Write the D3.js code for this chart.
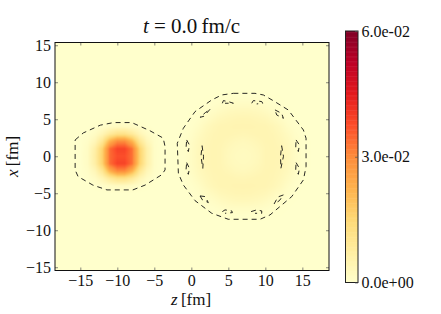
<!DOCTYPE html>
<html>
<head>
<meta charset="utf-8">
<script src="https://cdn.jsdelivr.net/npm/d3@7"></script>
<style>
  html, body { margin: 0; background: #fff; }
  text { font-family: "Liberation Serif", serif; fill: #111; }
</style>
</head>
<body>
<div id="vis"></div>
<script>
// Density values, in units of 1e-4
// Left nucleus: z = -14..-5, x = 4..-4
const blob_z = [-14, -13, -12, -11, -10, -9, -8, -7, -6, -5];
const blob_x = [4, 3, 2, 1, 0, -1, -2, -3, -4];
const blob_rows = [
  [0, 2, 6, 14, 20, 20, 14, 6, 2, 0],
  [2, 14, 40, 85, 115, 115, 85, 40, 14, 2],
  [8, 35, 100, 230, 300, 300, 225, 100, 35, 8],
  [14, 65, 165, 340, 390, 390, 335, 165, 60, 10],
  [15, 70, 170, 340, 375, 375, 335, 170, 60, 10],
  [14, 65, 165, 340, 390, 390, 335, 165, 60, 10],
  [8, 35, 100, 230, 300, 300, 225, 100, 35, 8],
  [2, 14, 40, 85, 115, 115, 85, 40, 14, 2],
  [0, 2, 6, 14, 20, 20, 14, 6, 2, 0]
];

// Right nucleus: z = -2..16, x = 8..-8
const ring_z = [-2, -1, 0, 1, 2, 3, 4, 5, 6, 7, 8, 9, 10, 11, 12, 13, 14, 15, 16];
const ring_x = [8, 7, 6, 5, 4, 3, 2, 1, 0, -1, -2, -3, -4, -5, -6, -7, -8];
const ring_rows = [
  [0, 0, 0, 0, 1, 1, 2, 4, 4, 4, 4, 4, 2, 1, 1, 0, 0, 0, 0],
  [0, 0, 0, 1, 2, 4, 8, 12, 14, 14, 14, 12, 8, 4, 2, 1, 0, 0, 0],
  [0, 0, 1, 2, 6, 12, 20, 26, 29, 30, 29, 26, 20, 12, 6, 2, 1, 0, 0],
  [0, 0, 2, 6, 14, 24, 33, 37, 40, 41, 40, 37, 33, 24, 14, 6, 2, 0, 0],
  [0, 1, 4, 12, 26, 36, 42, 43, 45, 45, 45, 43, 42, 36, 26, 12, 4, 1, 0],
  [0, 2, 8, 20, 32, 40, 43, 43, 40, 38, 40, 43, 43, 40, 32, 20, 8, 2, 0],
  [1, 4, 12, 26, 36, 42, 42, 36, 30, 27, 30, 36, 42, 42, 36, 26, 12, 4, 1],
  [1, 4, 14, 29, 39, 43, 40, 30, 24, 22, 24, 30, 40, 43, 39, 29, 14, 4, 1],
  [1, 4, 14, 30, 40, 43, 40, 28, 22, 20, 22, 28, 40, 43, 40, 30, 14, 4, 1],
  [1, 4, 14, 29, 39, 43, 40, 30, 24, 22, 24, 30, 40, 43, 39, 29, 14, 4, 1],
  [1, 4, 12, 26, 36, 42, 42, 36, 30, 27, 30, 36, 42, 42, 36, 26, 12, 4, 1],
  [0, 2, 8, 20, 32, 40, 43, 43, 40, 38, 40, 43, 43, 40, 32, 20, 8, 2, 0],
  [0, 1, 4, 12, 26, 36, 42, 43, 45, 45, 45, 43, 42, 36, 26, 12, 4, 1, 0],
  [0, 0, 2, 6, 14, 24, 33, 37, 40, 41, 40, 37, 33, 24, 14, 6, 2, 0, 0],
  [0, 0, 1, 2, 6, 12, 20, 26, 29, 30, 29, 26, 20, 12, 6, 2, 1, 0, 0],
  [0, 0, 0, 1, 2, 4, 8, 12, 14, 14, 14, 12, 8, 4, 2, 1, 0, 0, 0],
  [0, 0, 0, 0, 1, 1, 2, 4, 4, 4, 4, 4, 2, 1, 1, 0, 0, 0, 0]
];

// Dashed contour lines as [z, x]
const contours = [
  [[-15.7, 2.2], [-14.6, 3.15], [-12.3, 4.2], [-10.5, 4.55], [-8.05, 4.55], [-5.6, 3.45], [-3.8, 2.45], [-3.55, 1.3], [-3.55, -1.85], [-4, -2.5], [-6.25, -3.9], [-7.9, -4.55], [-11.4, -4.55], [-13.3, -3.9], [-15.3, -2.75], [-15.7, -1.85], [-15.7, 2.2]],
  [[5.68, 8.5], [8.6, 8.5], [9.73, 8.28], [11.08, 7.5], [13.1, 6.25], [15.14, 3.55], [15.5, 2.43], [15.5, -1.4], [15.14, -3.2], [13.57, -5.45], [10.63, -7.93], [9.28, -8.52], [5, -8.52], [2.75, -7.7], [0.5, -6], [-1.08, -3.88], [-1.75, -2.3], [-1.9, 1.75], [-1.08, 3.78], [0.5, 6.03], [2.75, 7.6], [4.1, 8.28], [5.68, 8.5]],
  [[4.19, 7.16], [4.33, 7.52], [5.14, 7.34], [5.68, 7.16], [4.55, 7.16]],
  [[8.16, 7.16], [8.38, 7.52], [9.51, 7.39], [9.64, 7.16], [8.83, 7.07]],
  [[4.19, -7.48], [4.55, -7.25], [5.46, -7.39], [5.55, -7.62], [4.55, -7.71]],
  [[8.07, -7.48], [8.83, -7.25], [9.51, -7.39], [9.51, -7.71], [8.6, -7.71]],
  [[-0.63, 2.2], [-0.26, 1.53], [-0.4, 0.63], [-0.72, 1.08], [-0.63, 2.2]],
  [[-0.63, -0.86], [-0.26, -1.63], [-0.4, -2.44], [-0.72, -1.86], [-0.63, -0.86]],
  [[14.15, 2.2], [14.6, 1.53], [14.46, 0.63], [14.1, 1.08], [14.15, 2.2]],
  [[14.15, -0.86], [14.6, -1.63], [14.46, -2.44], [14.1, -1.86], [14.15, -0.86]],
  [[1.45, 1.42], [1.65, 0], [1.55, -1.63], [1.3, 0], [1.45, 1.42]],
  [[12.2, 1.42], [12.45, 0], [12.1, -1.63], [12.05, 0], [12.2, 1.42]],
  [[2.53, 6.35], [1.7, 5.4], [1.17, 5.26], [1.9, 5.9], [2.53, 6.35]],
  [[11.3, 6.26], [12.2, 5.8], [12.44, 5.13], [11.53, 5.58], [11.3, 6.26]],
  [[1.17, -5.36], [1.85, -5.45], [2.3, -6.26], [1.5, -5.9], [1.17, -5.36]],
  [[12.44, -5.23], [11.7, -5.5], [11.18, -6.45], [11.9, -6], [12.44, -5.23]]
];

const z_ticks = [-15, -10, -5, 0, 5, 10, 15];
const x_ticks = [-15, -10, -5, 0, 5, 10, 15];
const color_ticks = [0, 0.03, 0.06];
const color_tick_labels = ['0.0e+00', '3.0e-02', '6.0e-02'];

// SVG canvas variables
const width = 441;
const height = 314;
const plot = {left: 55, right: 329, top: 42.5, bottom: 270.5};
const bar = {left: 345.5, right: 358, top: 31, bottom: 282.5};

const svg = d3.select('#vis').append('svg')
    .attr('width', width)
    .attr('height', height)
    .style('display', 'block');

const zScale = d3.scaleLinear().domain([-18.42, 18.6]).range([plot.left, plot.right]);
const xScale = d3.scaleLinear().domain([15.37, -15.44]).range([plot.top, plot.bottom]);

// YlOrRd, straight segments between the 9 stops like the original colormap
const stops = d3.schemeYlOrRd[9];
const colorScale = d3.scaleLinear()
    .domain(stops.map((d, i) => 0.06 * i / (stops.length - 1)))
    .range(stops)
    .clamp(true);

// Bilinear lookup in one of the patches, 0 outside of it
function sample(z, x, zs, xs, rows) {
    const fz = z - zs[0];
    const fx = xs[0] - x;
    const i = Math.floor(fz);
    const j = Math.floor(fx);
    const at = (a, b) => (rows[b] && rows[b][a] !== undefined) ? rows[b][a] : 0;
    const tz = fz - i;
    const tx = fx - j;
    return (at(i, j) * (1 - tz) + at(i + 1, j) * tz) * (1 - tx)
        + (at(i, j + 1) * (1 - tz) + at(i + 1, j + 1) * tz) * tx;
}

function density(z, x) {
    return (sample(z, x, blob_z, blob_x, blob_rows) + sample(z, x, ring_z, ring_x, ring_rows)) * 1e-4;
}

// Paint the field to a canvas and put it in the svg as an image
const w = Math.round(plot.right - plot.left);
const h = Math.round(plot.bottom - plot.top);
const canvas = document.createElement('canvas');
canvas.width = w;
canvas.height = h;
const ctx = canvas.getContext('2d');
const img = ctx.createImageData(w, h);
for (let py = 0; py < h; py++) {
    for (let px = 0; px < w; px++) {
        const v = density(zScale.invert(plot.left + px + 0.5), xScale.invert(plot.top + py + 0.5));
        const c = d3.rgb(colorScale(v));
        const k = (py * w + px) * 4;
        img.data[k] = c.r;
        img.data[k + 1] = c.g;
        img.data[k + 2] = c.b;
        img.data[k + 3] = 255;
    }
}
ctx.putImageData(img, 0, 0);

svg.append('image')
    .attr('x', plot.left)
    .attr('y', plot.top)
    .attr('width', plot.right - plot.left)
    .attr('height', plot.bottom - plot.top)
    .attr('preserveAspectRatio', 'none')
    .attr('href', canvas.toDataURL());

const line = d3.line().x(d => zScale(d[0])).y(d => xScale(d[1]));

svg.append('g')
    .selectAll('path')
    .data(contours)
    .join('path')
    .attr('d', line)
    .attr('fill', 'none')
    .attr('stroke', '#111')
    .attr('stroke-width', 0.9)
    .attr('stroke-dasharray', '5 4');

// Axes, ticks point inward on all four sides
const tickLen = 3;
const minus = d => d3.format('d')(d).replace('-', '\u2212');

function styleAxis(g) {
    g.selectAll('.domain').remove();
    g.selectAll('.tick line').attr('stroke', '#555').attr('stroke-width', 0.7);
    g.selectAll('text').style('font-size', '16px').style('font-family', '"Liberation Serif", serif').attr('fill', '#111');
}

svg.append('g')
    .attr('transform', `translate(0,${plot.bottom})`)
    .call(d3.axisBottom(zScale).tickValues(z_ticks).tickFormat(minus).tickSize(-tickLen).tickPadding(4))
    .call(styleAxis);

svg.append('g')
    .attr('transform', `translate(0,${plot.top})`)
    .call(d3.axisTop(zScale).tickValues(z_ticks).tickFormat('').tickSize(-tickLen))
    .call(styleAxis);

svg.append('g')
    .attr('transform', `translate(${plot.left},0)`)
    .call(d3.axisLeft(xScale).tickValues(x_ticks).tickFormat(minus).tickSize(-tickLen).tickPadding(4))
    .call(styleAxis);

svg.append('g')
    .attr('transform', `translate(${plot.right},0)`)
    .call(d3.axisRight(xScale).tickValues(x_ticks).tickFormat('').tickSize(-tickLen))
    .call(styleAxis);

svg.append('rect')
    .attr('x', plot.left)
    .attr('y', plot.top)
    .attr('width', plot.right - plot.left)
    .attr('height', plot.bottom - plot.top)
    .attr('fill', 'none')
    .attr('stroke', '#111')
    .attr('stroke-width', 1);

// Labels and title
function label(parent, x, y, parts, size, anchor) {
    const t = parent.append('text')
        .attr('x', x)
        .attr('y', y)
        .attr('text-anchor', anchor)
        .style('font-size', size + 'px');
    parts.forEach(p => {
        t.append('tspan')
            .attr('font-style', p[1] ? 'italic' : 'normal')
            .text(p[0]);
    });
    return t;
}

label(svg, 191.5, 33, [['t', true], [' = 0.0\u2009fm/c', false]], 21, 'middle');
label(svg, 191, 305, [['z', true], ['\u2009[fm]', false]], 17, 'middle');
label(svg, 0, 0, [['x', true], ['\u2009[fm]', false]], 17, 'middle')
    .attr('transform', `translate(18,156.5) rotate(-90)`);

// Colorbar
const barScale = d3.scaleLinear().domain([0, 0.06]).range([bar.bottom, bar.top]);
const barLevels = d3.range(0, 0.06, 0.0003);

svg.append('g')
    .selectAll('rect')
    .data(barLevels)
    .join('rect')
    .attr('x', bar.left)
    .attr('width', bar.right - bar.left)
    .attr('y', d => barScale(d + 0.0003))
    .attr('height', d => barScale(d) - barScale(d + 0.0003) + 0.5)
    .attr('fill', d => colorScale(d + 0.00015));

svg.append('rect')
    .attr('x', bar.left)
    .attr('y', bar.top)
    .attr('width', bar.right - bar.left)
    .attr('height', bar.bottom - bar.top)
    .attr('fill', 'none')
    .attr('stroke', '#222')
    .attr('stroke-width', 1);

svg.append('g')
    .attr('transform', `translate(${bar.right},0)`)
    .call(d3.axisRight(barScale).tickValues(color_ticks).tickFormat((d, i) => color_tick_labels[i]).tickSize(-3).tickPadding(3.5))
    .call(styleAxis);
</script>
</body>
</html>
